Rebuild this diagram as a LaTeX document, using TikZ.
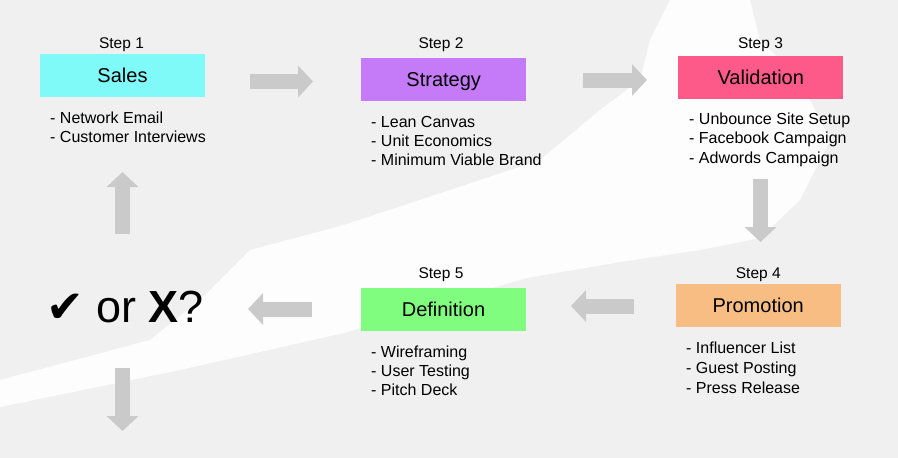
\documentclass[tikz,border=0pt]{standalone}
\usepackage{fontspec}
\setmainfont{Liberation Sans}
\newfontfamily\djv{DejaVu Sans}
\usetikzlibrary{arrows.meta}
\definecolor{bgcol}{RGB}{240,240,240}
\definecolor{salescol}{RGB}{127,250,248}
\definecolor{stratcol}{RGB}{197,123,247}
\definecolor{valcol}{RGB}{253,90,138}
\definecolor{promcol}{RGB}{248,189,130}
\definecolor{defcol}{RGB}{128,252,126}
\definecolor{arrcol}{RGB}{202,202,202}
\begin{document}
\begin{tikzpicture}[x=1pt,y=-1pt,
  stepbox/.style={minimum width=165pt, minimum height=43pt, inner sep=0pt,
    text height=14.3pt, text depth=0pt, font=\fontsize{20}{24}\selectfont},
  steplabel/.style={anchor=base, inner sep=0pt, font=\fontsize{15.5}{18}\selectfont},
  item/.style={anchor=base west, inner sep=0pt, font=\fontsize{16}{19.5}\selectfont},
  blockarrow/.style={draw=arrcol, line width=15pt,
    -{Triangle[length=15pt, width=31pt, fill=arrcol]}}
]
% background
\fill[bgcol] (0,0) rectangle (898,458);
\fill[white, opacity=0.9] (0,407) -- (180,370) -- (344,333) -- (450,300) -- (527,278)
  -- (620,262) -- (700,250) -- (760,238) -- (800,200) -- (830,140) -- (800,80)
  -- (760,40) -- (750,0) -- (670,0) -- (650,40) -- (640,80) -- (600,110) -- (540,160)
  -- (450,190) -- (344,225) -- (250,250) -- (200,300) -- (150,340) -- (0,380) -- cycle;
\useasboundingbox (0,0) rectangle (898,458);

% step 1
\node[steplabel] (l1) at (121.5,48) {Step 1};
\node[stepbox, fill=salescol] (sales) at (122.5,75.8) {Sales};
\foreach \t [count=\i] in {Network Email, Customer Interviews}
  \node[item] (b1\i) at (50,{123+19.8*(\i-1)}) {- \t};

% step 2
\node[steplabel] (l2) at (441,48) {Step 2};
\node[stepbox, fill=stratcol] (strategy) at (443.7,79.5) {Strategy};
\foreach \t [count=\i] in {Lean Canvas, Unit Economics, Minimum Viable Brand}
  \node[item] (b2\i) at (371,{127+19.4*(\i-1)}) {- \t};

% step 3
\node[steplabel] (l3) at (760.5,48) {Step 3};
\node[stepbox, fill=valcol] (validation) at (760.8,77.7) {Validation};
\foreach \t [count=\i] in {Unbounce Site Setup, Facebook Campaign, Adwords Campaign}
  \node[item] (b3\i) at (689,{124.3+19.5*(\i-1)}) {- \t};

% step 4
\node[steplabel] (l4) at (758.3,278) {Step 4};
\node[stepbox, fill=promcol] (promotion) at (758.2,305.5) {Promotion};
\foreach \t [count=\i] in {Influencer List, Guest Posting, Press Release}
  \node[item] (b4\i) at (686,{353.3+20*(\i-1)}) {- \t};

% step 5
\node[steplabel] (l5) at (441,278) {Step 5};
\node[stepbox, fill=defcol] (definition) at (443.5,309.3) {Definition};
\foreach \t [count=\i] in {Wireframing, User Testing, Pitch Deck}
  \node[item] (b5\i) at (371,{357.3+19.2*(\i-1)}) {- \t};

% decision
\node[anchor=base west, inner sep=0pt, font=\fontsize{45}{50}\selectfont] (decision) at (46,322)
  {{\djv ✔} or \textbf{X}?};

% arrows
\coordinate (a1s) at (250,81.5);   \coordinate (a1e) at (313,81.5);
\coordinate (a2s) at (583,80);     \coordinate (a2e) at (647,80);
\coordinate (a3s) at (760.5,179);  \coordinate (a3e) at (760.5,242);
\coordinate (a4s) at (634,306);    \coordinate (a4e) at (571,306);
\coordinate (a5s) at (312,309);    \coordinate (a5e) at (248,309);
\coordinate (a6s) at (122.5,234);  \coordinate (a6e) at (122.5,172);
\coordinate (a7s) at (122.5,368);  \coordinate (a7e) at (122.5,431);
\draw[blockarrow] (a1s) -- (a1e);
\draw[blockarrow] (a2s) -- (a2e);
\draw[blockarrow] (a3s) -- (a3e);
\draw[blockarrow] (a4s) -- (a4e);
\draw[blockarrow] (a5s) -- (a5e);
\draw[blockarrow] (a6s) -- (a6e);
\draw[blockarrow] (a7s) -- (a7e);
\end{tikzpicture}
\end{document}
